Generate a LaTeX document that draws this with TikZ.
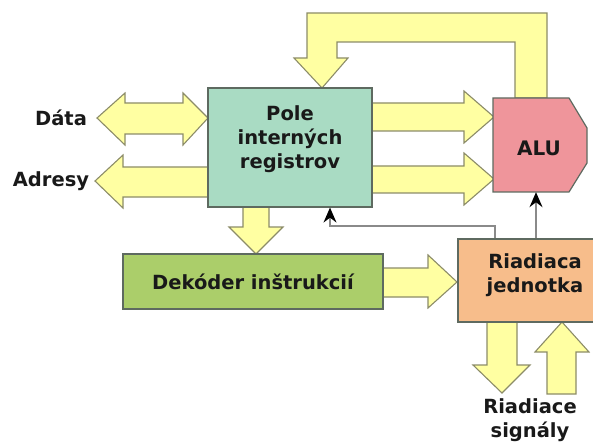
\documentclass[tikz,border=0pt]{standalone}
\usepackage{fontspec}
\setmainfont{DejaVu Sans}
\usetikzlibrary{arrows.meta,calc}
\definecolor{arrY}{HTML}{FFFFA2}
\definecolor{arrE}{HTML}{8C8C68}
\definecolor{regC}{HTML}{A9DBC3}
\definecolor{aluC}{HTML}{EF959B}
\definecolor{dekC}{HTML}{ABCE6A}
\definecolor{rjC}{HTML}{F7BD8B}
\definecolor{edgeC}{HTML}{5E6A60}
\definecolor{ctrlC}{HTML}{8A8A8A}
\begin{document}
\begin{tikzpicture}[x=1pt,y=-1pt,
  fatarrow/.style={fill=arrY,draw=arrE,line width=1.1pt,line join=miter},
  block/.style={draw=edgeC,line width=1.2pt,inner sep=0pt},
  lbl/.style={font=\bfseries\fontsize{19.5}{24}\selectfont,align=center,text=black!90,inner sep=0pt},
  ctrl/.style={draw=ctrlC,line width=1.1pt,-{Stealth[color=black,length=15pt,width=13pt,inset=5pt]}}]
\useasboundingbox (0,0) rectangle (593,446);
% fat arrows behind the blocks
\draw[fatarrow] (97,118) -- (125,93) -- (125,103) -- (183,103) -- (183,93) -- (208,118)
  -- (183,145) -- (183,134) -- (125,134) -- (125,145) -- cycle;
\draw[fatarrow] (95,181) -- (123,155) -- (123,167) -- (208,167) -- (208,197) -- (123,197) -- (123,208) -- cycle;
\draw[fatarrow] (372,103) -- (464,103) -- (464,91) -- (494,117) -- (464,143) -- (464,131) -- (372,131) -- cycle;
\draw[fatarrow] (372,166) -- (464,166) -- (464,153) -- (494,179) -- (464,205) -- (464,193) -- (372,193) -- cycle;
\draw[fatarrow] (515,98) -- (515,42) -- (337,42) -- (337,58) -- (348,58) -- (322,88) -- (294,58)
  -- (307,58) -- (307,13) -- (547,13) -- (547,98) -- cycle;
\draw[fatarrow] (243,207) -- (243,227) -- (229,227) -- (256,254) -- (283,227) -- (269,227) -- (269,207) -- cycle;
\draw[fatarrow] (383,268) -- (428,268) -- (428,255) -- (457,282) -- (428,308) -- (428,297) -- (383,297) -- cycle;
\draw[fatarrow] (487,322) -- (487,365) -- (473,365) -- (502,393) -- (530,365) -- (517,365) -- (517,322) -- cycle;
\draw[fatarrow] (547,394) -- (547,352) -- (535,352) -- (562,322) -- (589,352) -- (576,352) -- (576,394) -- cycle;
% blocks
\node[block,fill=regC,minimum width=164pt,minimum height=119pt] (reg) at (290,147.5) {};
\node[lbl] (regt) at (290,139) {Pole\\interných\\registrov};
\draw[block,fill=aluC] (493,98) -- (569,98) -- (587,128) -- (587,163) -- (569,192) -- (493,192) -- cycle;
\node[inner sep=0pt,minimum width=94pt,minimum height=94pt] (alu) at (540,145) {};
\node[lbl,font=\bfseries\fontsize{20}{24}\selectfont] (alut) at (539,148) {ALU};
\node[block,fill=dekC,minimum width=260pt,minimum height=55pt] (dek) at (253,281.5) {};
\node[lbl] (dekt) at (253,282) {Dekóder inštrukcií};
\node[block,fill=rjC,minimum width=150pt,minimum height=83pt] (rj) at (533,280.5) {};
\node[lbl] (rjt) at (535,275) {Riadiaca\\jednotka};
% labels
\node[lbl] (data) at (61,118) {Dáta};
\node[lbl] (adr) at (51,181) {Adresy};
\node[lbl] (sig) at (530,420) {Riadiace\\signály};
% control lines
\coordinate (xa) at (495,0);
\coordinate (xb) at (330,0);
\coordinate (xc) at (536,0);
\coordinate (ya) at (0,226);
\draw[ctrl] (rj.north -| xa) -- (xa |- ya) -| (reg.south -| xb);
\draw[ctrl] (rj.north -| xc) -- (alu.south -| xc);
\end{tikzpicture}
\end{document}
